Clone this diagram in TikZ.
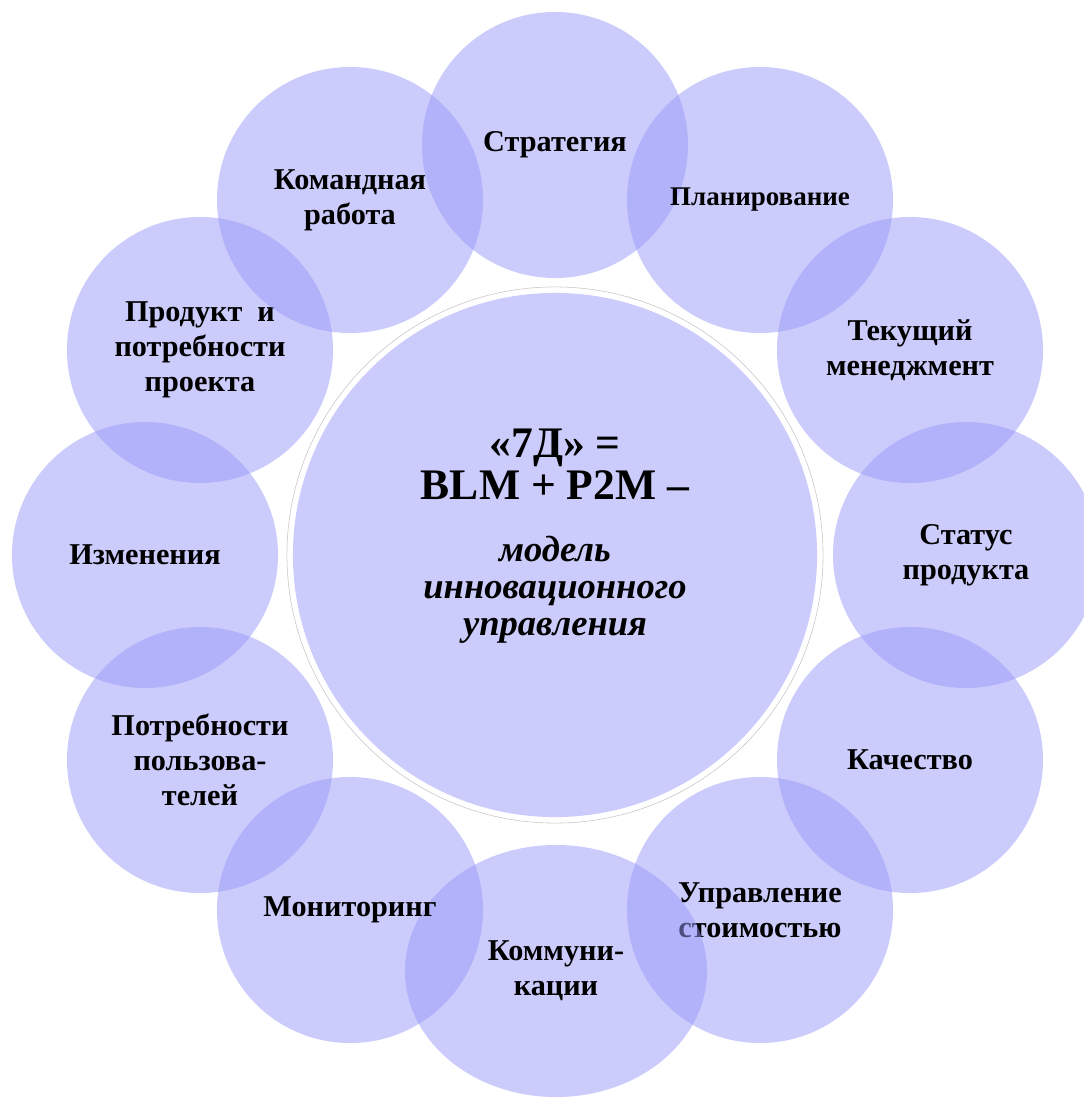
\documentclass[tikz,border=0pt]{standalone}
\usepackage{fontspec}
\setmainfont{Liberation Serif}
\usetikzlibrary{shapes.geometric}
\definecolor{petalblue}{RGB}{153,153,250}
\definecolor{corefill}{RGB}{204,204,252}
\newcommand\mottofont{\fontsize{26}{26.3}\selectfont\bfseries\itshape}

\begin{document}
\begin{tikzpicture}[x=0.025cm, y=-0.025cm,
  petal/.style={circle, fill=petalblue, fill opacity=0.5, text opacity=1,
    minimum size=6.65cm, inner sep=0pt, align=center,
    font=\fontsize{21.5}{25}\selectfont\bfseries},
  ring/.style={circle, draw=gray!45, line width=0.4pt, fill=white,
    minimum size=13.4cm, inner sep=0pt},
  core/.style={circle, fill=corefill, minimum size=13.1cm, inner sep=0pt},
  motto/.style={align=center, inner sep=0pt, font=\fontsize{31}{26.3}\selectfont\bfseries}]
\clip (0,0) rectangle (1084,1098);
\node[ring] (ring) at (555,555) {};
\node[core] (core) at (555,555) {};
\node[motto] (motto) at (555,536) {«7Д» =\\[2.2pt] BLM + P2M –\\[17.8pt]
  \mottofont модель\\ \mottofont инновационного\\ \mottofont управления};
\node[petal] (strategy) at (555,145) {Стратегия};
\node[petal, font=\fontsize{19.2}{22}\selectfont\bfseries] (planning) at (760,200) {Планирование};
\node[petal] (current) at (910,350) {Текущий\\ менеджмент};
\node[petal] (status) at (966,555) {Статус\\ продукта};
\node[petal] (quality) at (910,760) {Качество};
\node[petal] (cost) at (760,910) {Управление\\ стоимостью};
\node[petal, ellipse, minimum width=7.55cm, minimum height=6.3cm] (comms) at (556,971) {Коммуни-\\ кации};
\node[petal] (monitoring) at (350,910) {Мониторинг};
\node[petal] (userneeds) at (200,760) {Потребности\\ пользова-\\ телей};
\node[petal] (changes) at (145,555) {Изменения};
\node[petal] (product) at (200,350) {Продукт\ \ и\\ потребности\\ проекта};
\node[petal] (team) at (350,200) {Командная\\ работа};
\end{tikzpicture}
\end{document}
